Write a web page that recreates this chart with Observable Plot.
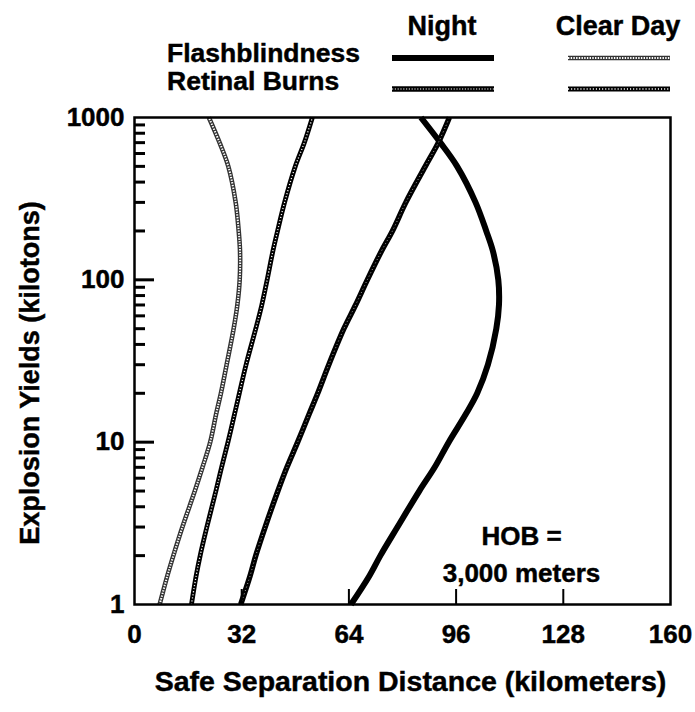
<!DOCTYPE html>
<html><head><meta charset="utf-8">
<script src="https://cdn.jsdelivr.net/npm/d3@7"></script>
<script src="https://cdn.jsdelivr.net/npm/@observablehq/plot@0.6"></script>
<style>
body{margin:0;background:#fff;font-family:"Liberation Sans",Arial,Helvetica,sans-serif;}
#wrap{position:relative;width:695px;height:712px;overflow:hidden;}
#legend{position:absolute;left:0;top:0;}
#chart{position:absolute;left:0;top:105px;}
svg text{stroke:#000;stroke-width:0.45px;}
</style></head><body>
<div id="wrap"><svg id="legend" width="695" height="105"></svg><div id="chart"></div></div>
<script>
// Explosion yield (kilotons) sampled along each curve
const yields = [1, 1.5, 2, 3, 5, 7, 10, 15, 20, 30, 50, 70, 100, 150, 200, 300, 500, 700, 1000];
// Safe separation distance (km)
const nightFlash    = [64.6, 70.1, 73.4, 78.5, 85, 89.6, 93.8, 99, 102.3, 105.5, 108, 108.8, 108.6, 107, 105, 101.8, 96.3, 91.3, 85.5];
const nightRetinal  = [31.7, 34.5, 36.2, 39, 42.8, 45.5, 48.7, 52.2, 54.7, 58, 62.5, 66, 69.5, 73.7, 77, 81, 86.8, 90.7, 94];
const dayFlash      = [7.5, 9.8, 11.6, 14.3, 18, 20.3, 22.6, 24.4, 25.8, 27.5, 29.6, 30.7, 31.4, 31.5, 31.1, 30.2, 28, 25.4, 22.2];
const dayRetinal    = [17, 18.4, 19.6, 21.6, 24.3, 26, 27.9, 29.9, 31.3, 33.3, 36.2, 38, 39.6, 41.3, 42.7, 44.8, 48, 50.7, 53.1];

const xTicks = [0, 32, 64, 96, 128, 160];
const xInnerTicks = [32, 64, 96, 128];
const yTicks = [1, 10, 100, 1000];
const yMajorInner = [10, 100];
const yMinor = [2,3,4,5,6,7,8,9,20,30,40,50,60,70,80,90,200,300,400,500,600,700,800,900];

const seriesNames = ["Night Flashblindness", "Night Retinal Burns", "Clear Day Flashblindness", "Clear Day Retinal Burns"];
const seriesValues = [nightFlash, nightRetinal, dayFlash, dayRetinal];

// line styles: base stroke + optional white dotted overlay (beaded look)
const styles = {
  "Night Flashblindness":     {w: 6,   c: "#000", ow: 0,   od: null},
  "Night Retinal Burns":      {w: 5.5, c: "#000", ow: 0.8, od: "0.8 2.8"},
  "Clear Day Flashblindness": {w: 4.6, c: "#333", ow: 2.0, od: "1.4 1.3"},
  "Clear Day Retinal Burns":  {w: 4.8, c: "#000", ow: 1.3, od: "1.1 2.0"}
};

const rows = seriesNames.flatMap((s, i) => yields.map((y, j) => ({series: s, yield: y, km: seriesValues[i][j]})));

const W = 695, H = 607;
const mL = 134, mR = 25, mT = 12, mB = 108;
const fw = W - mL - mR, fh = H - mT - mB;

const lineMarks = [];
for (const s of seriesNames) {
  const st = styles[s];
  const d = rows.filter(r => r.series === s);
  lineMarks.push(Plot.line(d, {x: "km", y: "yield", stroke: st.c, strokeWidth: st.w, curve: "catmull-rom", strokeLinecap: "butt"}));
  if (st.ow) lineMarks.push(Plot.line(d, {x: "km", y: "yield", stroke: "#fff", strokeWidth: st.ow, strokeDasharray: st.od, curve: "catmull-rom", strokeLinecap: "butt"}));
}

const chart = Plot.plot({
  width: W, height: H,
  marginLeft: mL, marginRight: mR, marginTop: mT, marginBottom: mB,
  style: {fontFamily: "'Liberation Sans', Arial, Helvetica, sans-serif", fontSize: "26px", fontWeight: "bold", color: "#000", background: "#fff", overflow: "visible"},
  x: {domain: [0, 160], label: null},
  y: {type: "log", domain: [1, 1000], label: null},
  marks: [
    ...lineMarks,
    Plot.ruleY(yMinor, {y: d => d, insetRight: fw - 11, stroke: "#000", strokeWidth: 3}),
    Plot.ruleY(yMajorInner, {y: d => d, insetRight: fw - 20, stroke: "#000", strokeWidth: 3}),
    Plot.ruleX(xInnerTicks, {x: d => d, insetTop: fh - 15, stroke: "#000", strokeWidth: 2}),
    Plot.frame({stroke: "#000", strokeWidth: 2.5}),
    Plot.axisX({ticks: xTicks, tickFormat: d => String(d), tickSize: 0, tickPadding: 20, label: null, fontSize: 26}),
    Plot.axisY({ticks: yTicks, tickFormat: d => String(d), tickSize: 0, tickPadding: 10, label: null, fontSize: 26}),
    Plot.text(["Safe Separation Distance (kilometers)"], {frameAnchor: "bottom", dy: 86, dx: 8, fontSize: 28.5, textAnchor: "middle"}),
    Plot.text(["Explosion Yields (kilotons)"], {frameAnchor: "left", rotate: -90, dx: -104, dy: 12, fontSize: 27, textAnchor: "middle"}),
    Plot.text(["HOB =\n3,000 meters"], {frameAnchor: "bottom-right", dx: -149, dy: -23, lineAnchor: "bottom", lineHeight: 1.42, textAnchor: "middle", fontSize: 26})
  ]
});
document.getElementById("chart").appendChild(chart);

// Legend (above the plot)
const lg = d3.select("#legend").attr("font-family", "'Liberation Sans', Arial, Helvetica, sans-serif").attr("font-weight", "bold").attr("font-size", 27);
const colHeads = [["Night", 442], ["Clear Day", 618]];
colHeads.forEach(([t, x]) => lg.append("text").attr("x", x).attr("y", 35).attr("text-anchor", "middle").text(t));
const rowHeads = [["Flashblindness", 62], ["Retinal Burns", 90]];
rowHeads.forEach(([t, y]) => lg.append("text").attr("x", 167).attr("y", y).attr("font-size", 26.5).text(t));
const legendItems = [
  ["Night Flashblindness", 392, 494, 58],
  ["Night Retinal Burns", 392, 494, 89],
  ["Clear Day Flashblindness", 568, 670, 58],
  ["Clear Day Retinal Burns", 568, 670, 89]
];
legendItems.forEach(([s, x1, x2, y]) => {
  const st = styles[s];
  lg.append("line").attr("x1", x1).attr("x2", x2).attr("y1", y).attr("y2", y).attr("stroke", st.c).attr("stroke-width", st.w);
  const od = s === "Night Retinal Burns" ? "1.2 1.6" : st.od;
  const ow = s === "Night Retinal Burns" ? 1.2 : st.ow;
  if (ow) lg.append("line").attr("x1", x1).attr("x2", x2).attr("y1", y).attr("y2", y).attr("stroke", "#fff").attr("stroke-width", ow).attr("stroke-dasharray", od);
});
</script>
</body></html>
